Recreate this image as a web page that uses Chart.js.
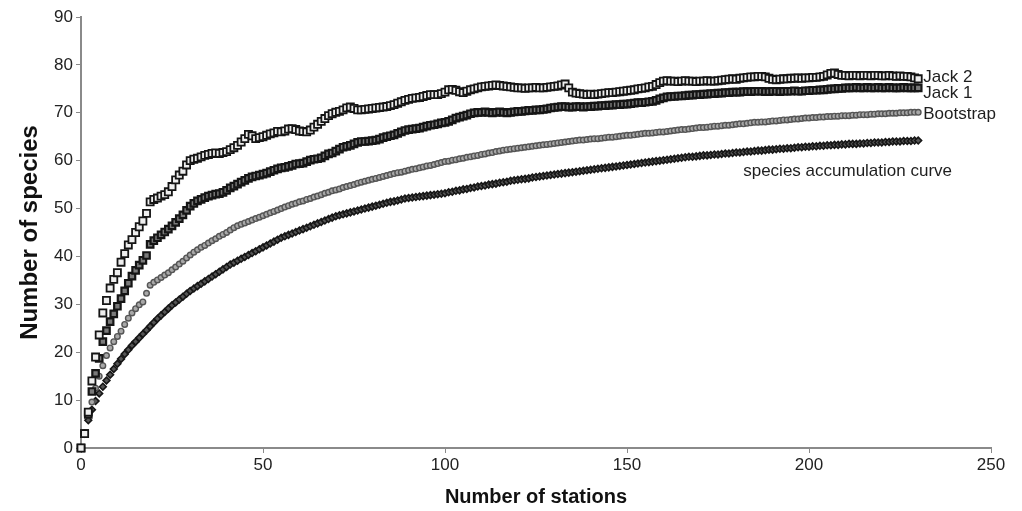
<!DOCTYPE html>
<html>
<head>
<meta charset="utf-8">
<script src="https://cdn.jsdelivr.net/npm/chart.js@4.4.1/dist/chart.umd.min.js"></script>
<style>
  html, body { margin: 0; padding: 0; background: #fff; }
  #wrap { width: 1022px; height: 511px; }
</style>
</head>
<body>
<div id="wrap"><canvas id="curves" width="1022" height="511"></canvas></div>
<script>
// values, one per station (0..230)
const jack2 = [
  0, 3.0, 7.5, 14.0, 19.0, 23.6, 28.2, 30.8, 33.4, 35.2,
  36.6, 38.8, 40.6, 42.4, 43.5, 45.0, 46.2, 47.4, 49.0, 51.4,
  51.9, 52.2, 52.6, 52.9, 53.5, 54.6, 56.0, 57.0, 57.8, 59.1,
  60.0, 60.3, 60.5, 60.8, 61.1, 61.3, 61.5, 61.6, 61.5, 61.7,
  61.9, 62.3, 62.7, 63.2, 63.9, 64.6, 65.5, 65.2, 64.6, 64.8,
  65.0, 65.3, 65.6, 65.8, 66.1, 66.0, 66.2, 66.6, 66.7, 66.5,
  66.2, 66.1, 66.0, 66.4, 67.0, 67.6, 68.2, 68.8, 69.4, 69.8,
  70.1, 70.3, 70.6, 71.0, 71.2, 70.9, 70.6, 70.6, 70.7, 70.8,
  70.9, 71.0, 71.1, 71.2, 71.3, 71.5, 71.7, 72.0, 72.3, 72.6,
  72.8, 73.0, 73.1, 73.2, 73.4, 73.6, 73.8, 73.8, 73.8, 74.0,
  74.3, 74.8, 74.9, 74.7, 74.4, 74.2, 74.5, 74.8, 75.0, 75.2,
  75.4, 75.5, 75.6, 75.7, 75.8, 75.7, 75.6, 75.5, 75.4, 75.3,
  75.2, 75.2, 75.1, 75.2, 75.2, 75.3, 75.2, 75.2, 75.3, 75.4,
  75.5, 75.6, 75.8, 76.0, 75.2, 74.3, 74.1, 74.0, 73.9, 73.8,
  73.9, 73.8, 73.9, 74.0, 74.1, 74.2, 74.2, 74.3, 74.4, 74.5,
  74.6, 74.7, 74.8, 75.0, 75.1, 75.2, 75.4, 75.5, 75.9, 76.3,
  76.6, 76.7, 76.6, 76.6, 76.5, 76.6, 76.7, 76.6, 76.6, 76.5,
  76.6, 76.6, 76.7, 76.6, 76.6, 76.7, 76.8, 76.9, 77.0, 77.1,
  77.0, 77.2, 77.3, 77.4, 77.5, 77.5, 77.6, 77.6, 77.5, 77.2,
  77.0, 76.9, 77.0, 77.1, 77.1, 77.2, 77.2, 77.3, 77.2, 77.3,
  77.3, 77.4, 77.4, 77.5, 77.6, 77.9, 78.2, 78.3, 78.0, 77.8,
  77.8, 77.7, 77.8, 77.8, 77.7, 77.8, 77.8, 77.7, 77.8, 77.8,
  77.7, 77.7, 77.8, 77.7, 77.6, 77.7, 77.6, 77.6, 77.5, 77.3,
  77.1
];
const jack1 = [
  0, 3.0, 7.0, 11.8, 15.6, 18.7, 22.2, 24.5, 26.4, 28.0,
  29.6, 31.2, 32.8, 34.4, 35.9, 37.1, 38.2, 39.2, 40.2, 42.5,
  43.3, 43.9, 44.5, 45.1, 45.7, 46.4, 47.1, 47.9, 48.7, 49.6,
  50.5, 51.1, 51.6, 51.9, 52.3, 52.6, 52.8, 53.0, 53.1, 53.4,
  53.8, 54.3, 54.7, 55.1, 55.5, 55.9, 56.3, 56.6, 56.8, 57.0,
  57.2, 57.4, 57.7, 58.0, 58.3, 58.5, 58.6, 58.8, 59.0, 59.3,
  59.4, 59.5, 59.8, 60.1, 60.3, 60.4, 60.6, 61.0, 61.4, 61.6,
  62.0, 62.4, 62.8, 63.0, 63.2, 63.5, 63.8, 64.0, 64.0, 64.1,
  64.2, 64.3, 64.5, 64.8, 65.0, 65.2, 65.4, 65.7, 66.0, 66.3,
  66.5, 66.6, 66.7, 66.8, 67.0, 67.2, 67.4, 67.5, 67.7, 67.9,
  68.0, 68.2, 68.5, 68.9, 69.1, 69.3, 69.5, 69.8, 70.0, 70.1,
  70.1, 70.2, 70.1, 70.0, 70.1, 70.2, 70.1, 70.0, 70.1, 70.2,
  70.3, 70.3, 70.4, 70.5, 70.5, 70.6, 70.6, 70.7, 70.8, 71.0,
  71.1, 71.2, 71.3, 71.3, 71.2, 71.2, 71.3, 71.3, 71.2, 71.3,
  71.3, 71.4, 71.4, 71.5, 71.5, 71.6, 71.6, 71.7, 71.7, 71.8,
  71.8, 71.9, 72.0, 72.1, 72.1, 72.2, 72.3, 72.4, 72.6, 72.9,
  73.1, 73.3, 73.4, 73.4, 73.5, 73.5, 73.6, 73.7, 73.7, 73.8,
  73.8, 73.9, 73.9, 74.0, 74.0, 74.1, 74.1, 74.2, 74.2, 74.3,
  74.3, 74.3, 74.4, 74.4, 74.4, 74.5, 74.5, 74.5, 74.4, 74.4,
  74.5, 74.5, 74.4, 74.5, 74.5, 74.5, 74.6, 74.5, 74.5, 74.6,
  74.6, 74.7, 74.7, 74.8, 74.8, 74.9, 75.0, 75.0, 75.1, 75.1,
  75.2, 75.2, 75.2, 75.3, 75.2, 75.2, 75.3, 75.2, 75.2, 75.3,
  75.2, 75.2, 75.3, 75.2, 75.2, 75.2, 75.3, 75.2, 75.2, 75.2,
  75.2
];
const bootstrap = [
  0, 3.2, 6.8, 9.6, 12.5, 15.0, 17.2, 19.3, 20.9, 22.2,
  23.3, 24.4, 25.8, 27.1, 28.2, 29.1, 29.9, 30.5, 32.3, 34.0,
  34.6, 35.1, 35.6, 36.1, 36.6, 37.2, 37.8, 38.4, 39.0, 39.7,
  40.3, 40.9, 41.4, 41.9, 42.3, 42.8, 43.3, 43.7, 44.2, 44.6,
  45.0, 45.5, 46.0, 46.4, 46.7, 47.0, 47.3, 47.6, 47.9, 48.2,
  48.5, 48.8, 49.1, 49.4, 49.7, 50.0, 50.3, 50.6, 50.9, 51.1,
  51.4, 51.6, 51.9, 52.1, 52.4, 52.6, 52.9, 53.2, 53.4, 53.7,
  53.9, 54.1, 54.4, 54.6, 54.8, 55.0, 55.3, 55.5, 55.7, 55.9,
  56.1, 56.3, 56.5, 56.7, 56.9, 57.1, 57.3, 57.5, 57.6, 57.8,
  58.0, 58.2, 58.3, 58.5, 58.7, 58.9, 59.0, 59.2, 59.4, 59.6,
  59.8, 59.9, 60.1, 60.2, 60.4, 60.5, 60.7, 60.8, 61.0, 61.1,
  61.3, 61.4, 61.6, 61.7, 61.9, 62.0, 62.2, 62.3, 62.4, 62.5,
  62.6, 62.7, 62.8, 62.9, 63.0, 63.1, 63.2, 63.3, 63.4, 63.5,
  63.6, 63.7, 63.8, 63.9, 64.0, 64.1, 64.2, 64.3, 64.3, 64.4,
  64.5, 64.6, 64.6, 64.7, 64.8, 64.9, 64.9, 65.0, 65.1, 65.2,
  65.3, 65.3, 65.4, 65.5, 65.6, 65.7, 65.7, 65.8, 65.9, 66.0,
  66.0, 66.1, 66.2, 66.3, 66.4, 66.5, 66.5, 66.6, 66.7, 66.8,
  66.9, 66.9, 67.0, 67.1, 67.2, 67.2, 67.3, 67.4, 67.4, 67.5,
  67.6, 67.7, 67.7, 67.8, 67.9, 68.0, 68.0, 68.1, 68.1, 68.2,
  68.3, 68.3, 68.4, 68.5, 68.5, 68.6, 68.7, 68.7, 68.8, 68.9,
  68.9, 69.0, 69.0, 69.1, 69.1, 69.2, 69.2, 69.3, 69.3, 69.4,
  69.4, 69.4, 69.5, 69.5, 69.6, 69.6, 69.6, 69.7, 69.7, 69.8,
  69.8, 69.8, 69.9, 69.9, 69.9, 70.0, 70.0, 70.0, 70.1, 70.1,
  70.1
];
const accumulation = [
  0, 3.0, 5.8, 8.0, 9.8, 11.4, 12.8, 14.1, 15.3, 16.5,
  17.6, 18.6, 19.6, 20.5, 21.4, 22.2, 23.0, 23.8, 24.6, 25.4,
  26.2, 27.0, 27.7, 28.4, 29.1, 29.8, 30.4, 31.0, 31.6, 32.2,
  32.8, 33.3, 33.8, 34.3, 34.8, 35.3, 35.8, 36.3, 36.8, 37.3,
  37.8, 38.3, 38.7, 39.1, 39.5, 39.9, 40.3, 40.7, 41.1, 41.5,
  41.9, 42.3, 42.7, 43.1, 43.5, 43.9, 44.2, 44.5, 44.8, 45.1,
  45.4, 45.7, 46.0, 46.3, 46.6, 46.9, 47.2, 47.5, 47.8, 48.1,
  48.4, 48.6, 48.8, 49.0, 49.2, 49.4, 49.6, 49.8, 50.0, 50.2,
  50.4, 50.6, 50.8, 51.0, 51.2, 51.4, 51.5, 51.7, 51.9, 52.1,
  52.2, 52.3, 52.4, 52.5, 52.6, 52.7, 52.8, 52.9, 53.0, 53.1,
  53.2, 53.4, 53.5, 53.7, 53.8, 54.0, 54.1, 54.3, 54.4, 54.6,
  54.7, 54.8, 55.0, 55.1, 55.2, 55.4, 55.5, 55.6, 55.8, 55.9,
  56.0, 56.1, 56.2, 56.3, 56.5, 56.6, 56.7, 56.8, 56.9, 57.0,
  57.1, 57.2, 57.3, 57.4, 57.5, 57.6, 57.7, 57.8, 57.9, 58.0,
  58.1, 58.2, 58.3, 58.4, 58.5, 58.6, 58.7, 58.8, 58.9, 59.0,
  59.1, 59.2, 59.3, 59.4, 59.5, 59.6, 59.7, 59.8, 59.9, 60.0,
  60.1, 60.2, 60.3, 60.4, 60.5, 60.6, 60.7, 60.8, 60.8, 60.9,
  61.0, 61.1, 61.1, 61.2, 61.3, 61.3, 61.4, 61.5, 61.5, 61.6,
  61.7, 61.7, 61.8, 61.9, 61.9, 62.0, 62.1, 62.1, 62.2, 62.3,
  62.3, 62.4, 62.5, 62.5, 62.6, 62.6, 62.7, 62.8, 62.8, 62.9,
  62.9, 63.0, 63.0, 63.1, 63.1, 63.2, 63.2, 63.3, 63.3, 63.4,
  63.4, 63.5, 63.5, 63.5, 63.6, 63.6, 63.7, 63.7, 63.8, 63.8,
  63.8, 63.9, 63.9, 64.0, 64.0, 64.0, 64.1, 64.1, 64.1, 64.2,
  64.2
];
const seriesNames = ['Jack 2', 'Jack 1', 'Bootstrap', 'species accumulation curve'];
const xTicks = [0, 50, 100, 150, 200, 250];
const yTicks = [0, 10, 20, 30, 40, 50, 60, 70, 80, 90];

const stations = jack2.map((v, i) => i);
const pts = arr => arr.map((v, i) => ({ x: stations[i], y: v }));

const FONT = 'Arial, "Liberation Sans", Helvetica, sans-serif';
const AXIS = '#8a8a8a';

// end labels next to each curve
const endLabels = {
  id: 'endLabels',
  afterDatasetsDraw(chart) {
    const ctx = chart.ctx;
    ctx.save();
    ctx.font = '17px ' + FONT;
    ctx.fillStyle = '#1e1e1e';
    ctx.textBaseline = 'middle';
    const off = [[5, -1], [5, 5], [5, 2], [-175, 31]];
    chart.data.datasets.forEach((ds, i) => {
      const meta = chart.getDatasetMeta(i);
      const p = meta.data[meta.data.length - 1];
      ctx.textAlign = 'left';
      ctx.fillText(ds.label, p.x + off[i][0], p.y + off[i][1]);
    });
    ctx.restore();
  }
};

new Chart(document.getElementById('curves'), {
  type: 'scatter',
  data: {
    datasets: [{
      label: seriesNames[0],
      data: pts(jack2),
      pointStyle: 'rect',
      pointRadius: 5,
      borderWidth: 1.8,
      borderColor: '#151515',
      backgroundColor: '#eeeeee',
      order: 1
    }, {
      label: seriesNames[1],
      data: pts(jack1),
      pointStyle: 'rect',
      pointRadius: 4.6,
      borderWidth: 2.2,
      borderColor: '#151515',
      backgroundColor: '#7a7a7a',
      order: 2
    }, {
      label: seriesNames[2],
      data: pts(bootstrap),
      pointStyle: 'circle',
      pointRadius: 2.8,
      borderWidth: 1.4,
      borderColor: '#555',
      backgroundColor: '#a8a8a8',
      order: 3
    }, {
      label: seriesNames[3],
      data: pts(accumulation),
      pointStyle: 'rectRot',
      pointRadius: 3.4,
      borderWidth: 1.6,
      borderColor: '#161616',
      backgroundColor: '#555',
      order: 4
    }]
  },
  options: {
    responsive: false,
    animation: false,
    events: [],
    clip: false,
    layout: { padding: { top: 17, right: 31, left: 16, bottom: 2 } },
    plugins: { legend: { display: false }, tooltip: { enabled: false } },
    scales: {
      x: {
        type: 'linear',
        min: 0, max: 250,
        afterBuildTicks: s => { s.ticks = xTicks.map(v => ({ value: v })); },
        afterFit: s => { s.height = 61; },
        border: { color: AXIS, width: 2 },
        grid: { drawOnChartArea: false, drawTicks: true, tickLength: 5, color: AXIS, lineWidth: 1 },
        ticks: { color: '#222', font: { family: FONT, size: 17 }, padding: 2, maxRotation: 0 },
        title: { display: true, text: 'Number of stations', color: '#111',
                 font: { family: FONT, size: 20, weight: 'bold' }, padding: { top: 6, bottom: 0 } }
      },
      y: {
        min: 0, max: 90,
        afterBuildTicks: s => { s.ticks = yTicks.map(v => ({ value: v })); },
        afterFit: s => { s.width = 65; },
        border: { color: AXIS, width: 2 },
        grid: { drawOnChartArea: false, drawTicks: true, tickLength: 5, color: AXIS, lineWidth: 1 },
        ticks: { color: '#222', font: { family: FONT, size: 17 }, padding: 3 },
        title: { display: true, text: 'Number of species', color: '#111',
                 font: { family: FONT, size: 24, weight: 'bold' }, padding: { top: 0, bottom: 0 } }
      }
    }
  },
  plugins: [endLabels]
});
</script>
</body>
</html>
